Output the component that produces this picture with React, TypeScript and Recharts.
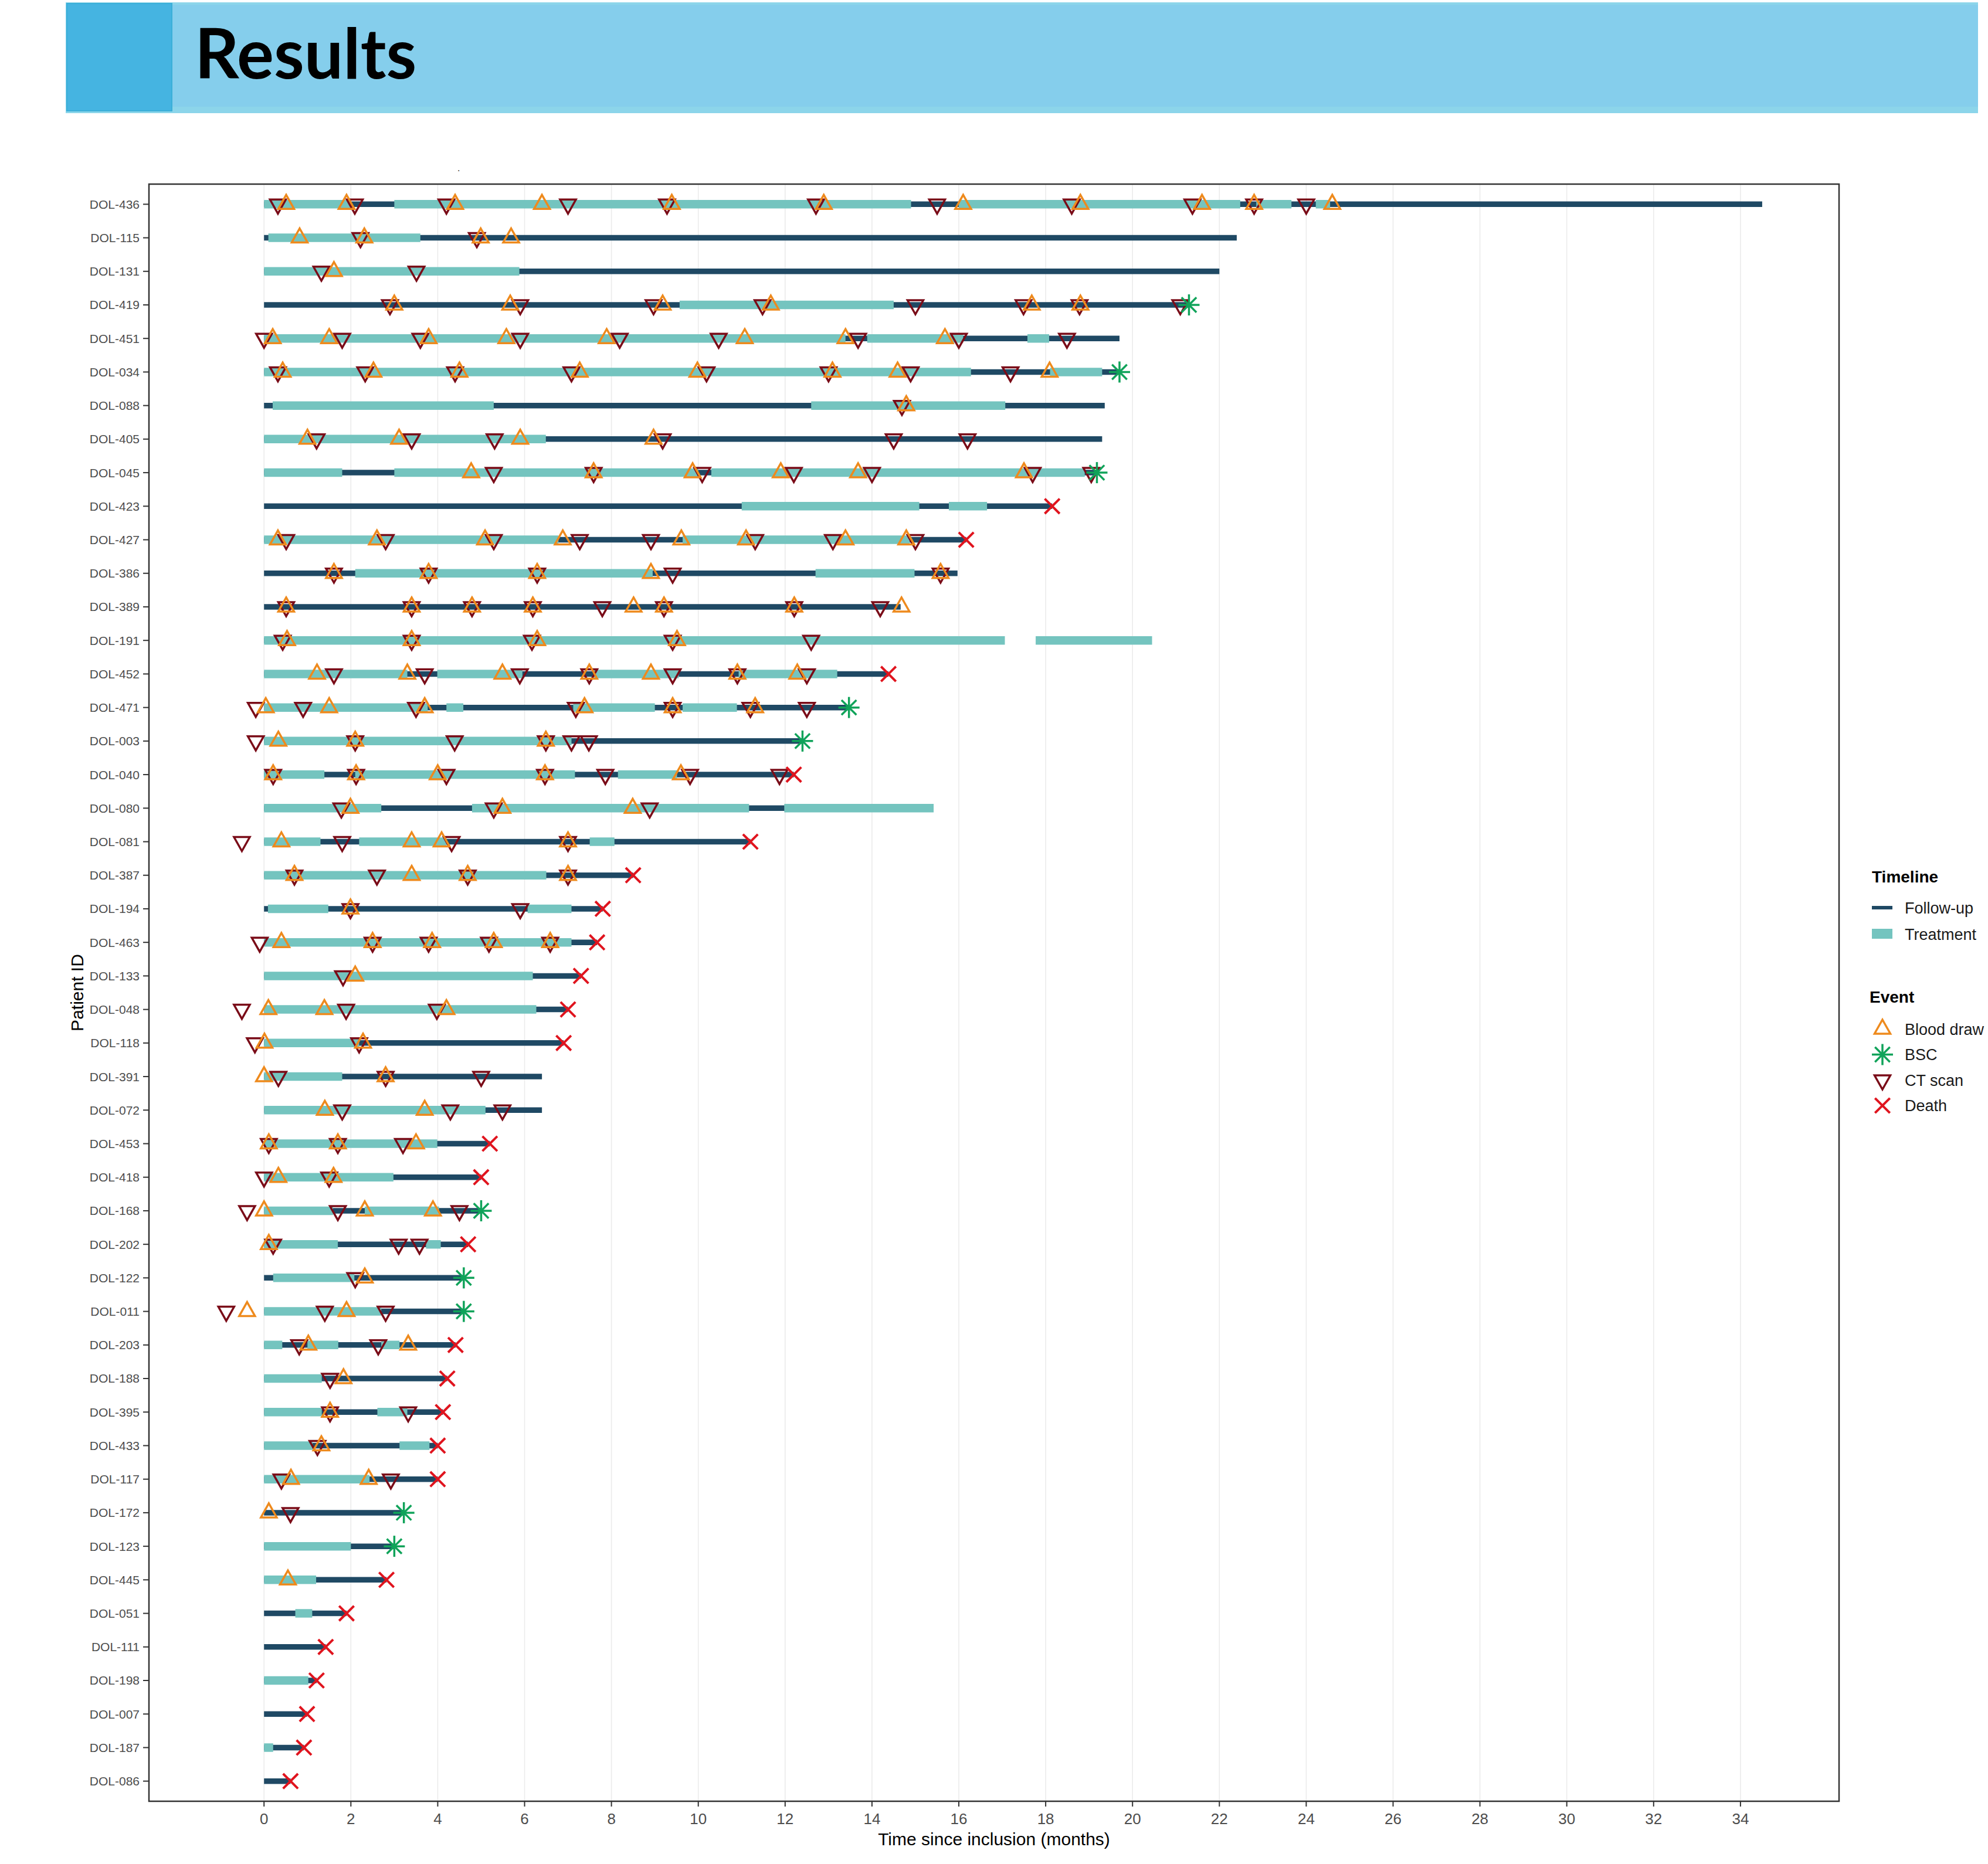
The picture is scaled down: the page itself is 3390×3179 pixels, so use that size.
import React from "react";
import {
  CartesianGrid,
  ComposedChart,
  Legend,
  Line,
  ReferenceArea,
  Scatter,
  XAxis,
  YAxis,
} from "recharts";

// ---- data (months since inclusion) ----
const patients = [
  "DOL-436", "DOL-115", "DOL-131", "DOL-419", "DOL-451", "DOL-034", "DOL-088", "DOL-405",
  "DOL-045", "DOL-423", "DOL-427", "DOL-386", "DOL-389", "DOL-191", "DOL-452", "DOL-471",
  "DOL-003", "DOL-040", "DOL-080", "DOL-081", "DOL-387", "DOL-194", "DOL-463", "DOL-133",
  "DOL-048", "DOL-118", "DOL-391", "DOL-072", "DOL-453", "DOL-418", "DOL-168", "DOL-202",
  "DOL-122", "DOL-011", "DOL-203", "DOL-188", "DOL-395", "DOL-433", "DOL-117", "DOL-172",
  "DOL-123", "DOL-445", "DOL-051", "DOL-111", "DOL-198", "DOL-007", "DOL-187", "DOL-086",
];

const followUpEnd = [
  34.5, 22.4, 22.0, 21.3, 19.7, 19.7, 19.36, 19.3, 19.18, 18.15, 16.17, 15.97, 14.66, 17.0,
  14.38, 13.47, 12.4, 12.2, 15.0, 11.2, 8.5, 7.8, 7.67, 7.3, 7.0, 6.9, 6.4, 6.4, 5.2, 5.0, 5.0,
  4.7, 4.6, 4.6, 4.41, 4.22, 4.12, 4.0, 4.0, 3.22, 3.0, 2.82, 1.9, 1.42, 1.21, 0.99, 0.92, 0.61,
];

const treatment: number[][][] = [
  [[0, 2.0], [3.0, 14.9], [16.0, 22.48], [22.85, 23.66], [24.22, 24.55]],
  [[0.1, 3.6]],
  [[0, 5.88]],
  [[9.57, 14.5]],
  [[0, 13.39], [13.89, 16.1], [17.58, 18.08]],
  [[0, 16.28], [18.1, 19.3]],
  [[0.2, 5.29], [12.6, 17.07]],
  [[0, 6.49]],
  [[0, 1.8], [3.0, 10.0], [10.3, 18.9]],
  [[11.0, 15.09], [15.77, 16.65]],
  [[0, 6.78], [9.64, 14.87]],
  [[2.1, 8.95], [12.7, 14.98]],
  [],
  [[0, 17.06], [17.77, 20.45]],
  [[0, 3.3], [3.99, 5.95], [7.6, 9.55], [10.93, 13.2]],
  [[0, 3.77], [4.2, 4.59], [7.12, 9.0], [9.64, 10.89]],
  [[0, 7.08]],
  [[0, 1.39], [2.1, 7.16], [8.15, 9.51]],
  [[0, 2.7], [4.79, 11.17], [11.98, 15.42]],
  [[0, 1.3], [2.19, 4.2], [7.5, 8.07]],
  [[0, 6.5]],
  [[0.09, 1.48], [6.07, 7.08]],
  [[0, 7.08]],
  [[0, 6.19]],
  [[0, 6.27]],
  [[0, 2.19]],
  [[0, 1.8]],
  [[0, 5.1]],
  [[0, 3.99]],
  [[0, 2.98]],
  [[0, 1.59], [2.32, 4.03]],
  [[0, 1.7], [3.73, 4.07]],
  [[0.21, 2.08]],
  [[0, 2.7]],
  [[0, 0.42], [1.0, 1.71], [2.7, 3.12]],
  [[0, 1.33]],
  [[0, 1.33], [2.61, 3.3]],
  [[0, 1.12], [3.12, 3.81]],
  [[0, 2.43]],
  [],
  [[0, 2.0]],
  [[0, 1.2]],
  [[0.72, 1.11]],
  [],
  [[0, 1.02]],
  [],
  [[0, 0.21]],
  [],
];

const bloodDraw: number[][] = [
  [0.51, 1.9, 4.4, 6.4, 9.39, 12.89, 16.1, 18.8, 21.6, 22.8, 24.6],
  [0.82, 2.31, 4.99, 5.69],
  [1.61],
  [3.0, 5.67, 9.18, 11.67, 17.68, 18.8],
  [0.2, 1.5, 3.79, 5.58, 7.89, 11.07, 13.39, 15.68],
  [0.43, 2.52, 4.5, 7.27, 9.98, 13.09, 14.59, 18.09],
  [14.79],
  [1.0, 3.11, 5.9, 8.97],
  [4.77, 7.59, 9.87, 11.9, 13.68, 17.5],
  [],
  [0.32, 2.6, 5.09, 6.88, 9.61, 11.1, 13.39, 14.79],
  [1.61, 3.79, 6.29, 8.91, 15.58],
  [0.51, 3.4, 4.79, 6.19, 8.51, 9.21, 12.21, 14.68],
  [0.53, 3.4, 6.29, 9.51],
  [1.22, 3.3, 5.49, 7.49, 8.91, 10.9, 12.28],
  [0.04, 1.5, 3.7, 7.38, 9.41, 11.31],
  [0.33, 2.1, 6.49],
  [0.21, 2.12, 4.0, 6.47, 9.6],
  [1.99, 5.49, 8.49],
  [0.4, 3.4, 4.09, 7.0],
  [0.7, 3.4, 4.69, 7.0],
  [1.99],
  [0.4, 2.5, 3.87, 5.29, 6.59],
  [2.1],
  [0.1, 1.39, 4.2],
  [0.01, 2.28],
  [0.0, 2.8],
  [1.4, 3.7],
  [0.11, 1.7, 3.5],
  [0.33, 1.6],
  [0.0, 2.32, 3.89],
  [0.11],
  [2.32],
  [-0.39, 1.9],
  [1.02, 3.32],
  [1.83],
  [1.52],
  [1.32],
  [0.62, 2.41],
  [0.11],
  [], [0.55], [], [], [], [], [], [],
];

const ctScan: number[][] = [
  [0.32, 2.09, 4.2, 7.0, 9.28, 12.71, 15.5, 18.6, 21.38, 22.8, 24.0],
  [2.22, 4.9],
  [1.32, 3.51],
  [2.9, 5.9, 8.97, 11.48, 15.0, 17.49, 18.78, 21.1],
  [0.0, 1.8, 3.6, 5.9, 8.19, 10.47, 13.68, 16.0, 18.49],
  [0.32, 2.33, 4.4, 7.08, 10.19, 13.0, 14.89, 17.19],
  [14.69],
  [1.21, 3.4, 5.31, 9.18, 14.5, 16.2],
  [5.29, 7.59, 10.09, 12.2, 14.0, 17.7, 19.05],
  [],
  [0.51, 2.8, 5.29, 7.27, 8.91, 11.31, 13.1, 15.0],
  [1.61, 3.79, 6.29, 9.41, 15.58],
  [0.51, 3.4, 4.79, 6.19, 7.79, 9.21, 12.21, 14.19],
  [0.43, 3.4, 6.17, 9.41, 12.6],
  [1.61, 3.7, 5.89, 7.49, 9.41, 10.9, 12.5],
  [-0.19, 0.9, 3.5, 7.18, 9.41, 11.2, 12.5],
  [-0.19, 2.1, 4.39, 6.49, 7.08, 7.48],
  [0.21, 2.12, 4.2, 6.47, 7.86, 9.81, 11.87],
  [1.78, 5.29, 8.88],
  [-0.51, 1.8, 4.32, 7.0],
  [0.7, 2.6, 4.69, 7.0],
  [1.99, 5.9],
  [-0.1, 2.5, 3.79, 5.18, 6.59],
  [1.82],
  [-0.51, 1.89, 3.98],
  [-0.21, 2.19],
  [0.33, 2.8, 5.0],
  [1.8, 4.29, 5.49],
  [0.11, 1.7, 3.2],
  [0.0, 1.5],
  [-0.39, 1.7, 4.5],
  [0.21, 3.1, 3.58],
  [2.1],
  [-0.87, 1.4, 2.8],
  [0.81, 2.63],
  [1.52],
  [1.52, 3.32],
  [1.23],
  [0.4, 2.92],
  [0.61],
  [], [], [], [], [], [], [], [],
];

const bsc: (number | null)[] = [
  null, null, null, 21.3, null, 19.7, null, null, 19.18, null, null, null, null, null, null, 13.47,
  12.4, null, null, null, null, null, null, null, null, null, null, null, null, null, 5.0, null,
  4.6, 4.6, null, null, null, null, null, 3.22, 3.0, null, null, null, null, null, null, null,
];

const death: (number | null)[] = [
  null, null, null, null, null, null, null, null, null, 18.15, 16.17, null, null, null, 14.38, null,
  null, 12.2, null, 11.2, 8.5, 7.8, 7.67, 7.3, 7.0, 6.9, null, null, 5.2, 5.0, null, 4.7,
  null, null, 4.41, 4.22, 4.12, 4.0, 4.0, null, null, 2.82, 1.9, 1.42, 1.21, 0.99, 0.92, 0.61,
];

const xTicks = [0, 2, 4, 6, 8, 10, 12, 14, 16, 18, 20, 22, 24, 26, 28, 30, 32, 34];
const timelineLabels = ["Follow-up", "Treatment"];
const eventLabels = ["Blood draw", "BSC", "CT scan", "Death"];

// ---- styling ----
const FOLLOW_COLOR = "#1F4964";
const TREAT_COLOR = "#74C4BF";
const BLOOD_COLOR = "#EE8A1D";
const CT_COLOR = "#7A0C18";
const BSC_COLOR = "#10A35A";
const DEATH_COLOR = "#E0141E";
const FONT = "'Liberation Sans', Arial, sans-serif";

const W = 3390;
const H = 3179;
const X_DOMAIN: [number, number] = [-2.65, 36.27];
const Y_DOMAIN: [number, number] = [-0.6, patients.length - 0.4];

const rowIdx = patients.map((_, i) => i);

const followData = patients.flatMap((_, i) => [
  { x: 0, y: i },
  { x: followUpEnd[i], y: i },
  { x: followUpEnd[i], y: null },
]);
const treatmentData = treatment.flatMap((segs, i) =>
  segs.flatMap(([s, e]) => [
    { x: s, y: i },
    { x: e, y: i },
    { x: e, y: null },
  ])
);
const listPoints = (lists: number[][]) => lists.flatMap((l, i) => l.map((x) => ({ x, y: i })));
const singlePoints = (vals: (number | null)[]) =>
  vals.flatMap((x, i) => (x == null ? [] : [{ x, y: i }]));

function TriUp(cx: number, cy: number) {
  return (
    <path
      d={`M${cx},${cy - 16} L${cx + 13.5},${cy + 8} L${cx - 13.5},${cy + 8} Z`}
      fill="none"
      stroke={BLOOD_COLOR}
      strokeWidth={3.5}
    />
  );
}
function TriDown(cx: number, cy: number) {
  return (
    <path
      d={`M${cx},${cy + 16} L${cx + 13.5},${cy - 8} L${cx - 13.5},${cy - 8} Z`}
      fill="none"
      stroke={CT_COLOR}
      strokeWidth={3.5}
    />
  );
}
function Asterisk(cx: number, cy: number) {
  const r = 18;
  const d = r / Math.SQRT2;
  return (
    <g stroke={BSC_COLOR} strokeWidth={3.5}>
      <line x1={cx - r} y1={cy} x2={cx + r} y2={cy} />
      <line x1={cx} y1={cy - r} x2={cx} y2={cy + r} />
      <line x1={cx - d} y1={cy - d} x2={cx + d} y2={cy + d} />
      <line x1={cx - d} y1={cy + d} x2={cx + d} y2={cy - d} />
    </g>
  );
}
function Cross(cx: number, cy: number) {
  const d = 12.7;
  return (
    <g stroke={DEATH_COLOR} strokeWidth={4}>
      <line x1={cx - d} y1={cy - d} x2={cx + d} y2={cy + d} />
      <line x1={cx - d} y1={cy + d} x2={cx + d} y2={cy - d} />
    </g>
  );
}

function LegendBox() {
  const markers = [TriUp, Asterisk, TriDown, Cross];
  const textProps = { fontSize: 27, fill: "#1a1a1a", fontFamily: FONT };
  return (
    <svg width={210} height={440} style={{ display: "block", overflow: "visible" }}>
      <text x={12} y={35} fontSize={28} fontWeight={700} fill="#000" fontFamily={FONT}>
        Timeline
      </text>
      <rect x={12} y={75} width={35} height={6} fill={FOLLOW_COLOR} />
      <rect x={12} y={114} width={35} height={17} fill={TREAT_COLOR} />
      {timelineLabels.map((label, i) => (
        <text key={label} x={68} y={88 + i * 45} {...textProps}>
          {label}
        </text>
      ))}
      <text x={8} y={240} fontSize={28} fontWeight={700} fill="#000" fontFamily={FONT}>
        Event
      </text>
      {eventLabels.map((label, i) => {
        const cy = 285 + i * 43.5;
        return (
          <g key={label}>
            {markers[i](30, cy)}
            <text x={68} y={cy + 9.6} {...textProps}>
              {label}
            </text>
          </g>
        );
      })}
    </svg>
  );
}

function Header() {
  return (
    <svg width={W} height={200} style={{ position: "absolute", left: 0, top: 0 }}>
      <rect x={112} y={4} width={3261} height={189} fill="#8CD5EA" />
      <rect x={112} y={8} width={3261} height={174} fill="#85CEEC" />
      <rect x={114} y={6} width={179} height={183} fill="#45B4E1" stroke="#3AAFD8" strokeWidth={2} />
      <text x={332} y={134} fontSize={118} fontWeight={700} fill="#000" fontFamily="Lato, 'Open Sans', sans-serif">
        Results
      </text>
    </svg>
  );
}

export default function App() {
  return (
    <div
      style={{
        position: "absolute",
        left: 0,
        top: 0,
        width: W,
        height: H,
        background: "#fff",
        overflow: "hidden",
        fontFamily: FONT,
      }}
    >
      <ComposedChart width={W} height={H} margin={{ top: 314, right: 254, bottom: 37, left: 104 }}>
        <CartesianGrid horizontal={false} stroke="#EBEBEB" strokeWidth={1.6} />
        <XAxis
          type="number"
          dataKey="x"
          domain={X_DOMAIN}
          allowDataOverflow
          ticks={xTicks}
          interval={0}
          height={70}
          tick={{ fill: "#4D4D4D", fontSize: 26, fontFamily: FONT }}
          tickSize={9}
          tickMargin={12}
          tickLine={{ stroke: "#333", strokeWidth: 2 }}
          axisLine={false}
          label={{
            value: "Time since inclusion (months)",
            position: "insideBottom",
            offset: -5,
            style: { fontSize: 30, fill: "#000", fontFamily: FONT },
          }}
        />
        <YAxis
          type="number"
          dataKey="y"
          domain={Y_DOMAIN}
          allowDataOverflow
          reversed
          ticks={rowIdx}
          interval={0}
          width={150}
          tickFormatter={(v: number) => patients[v] ?? ""}
          tick={{ fill: "#4D4D4D", fontSize: 21, fontFamily: FONT }}
          tickSize={10}
          tickMargin={6}
          tickLine={{ stroke: "#333", strokeWidth: 2 }}
          axisLine={false}
          label={{
            value: "Patient ID",
            angle: -90,
            position: "insideLeft",
            offset: 27,
            style: { fontSize: 30, fill: "#000", fontFamily: FONT, textAnchor: "middle" },
          }}
        />
        <Line
          data={followData}
          dataKey="y"
          stroke={FOLLOW_COLOR}
          strokeWidth={9.5}
          dot={false}
          activeDot={false}
          connectNulls={false}
          isAnimationActive={false}
          legendType="none"
        />
        <Line
          data={treatmentData}
          dataKey="y"
          stroke={TREAT_COLOR}
          strokeWidth={14.5}
          dot={false}
          activeDot={false}
          connectNulls={false}
          isAnimationActive={false}
          legendType="none"
        />
        <Scatter
          name="CT scan"
          data={listPoints(ctScan)}
          isAnimationActive={false}
          shape={(p: any) => TriDown(p.cx, p.cy)}
        />
        <Scatter
          name="Blood draw"
          data={listPoints(bloodDraw)}
          isAnimationActive={false}
          shape={(p: any) => TriUp(p.cx, p.cy)}
        />
        <Scatter
          name="BSC"
          data={singlePoints(bsc)}
          isAnimationActive={false}
          shape={(p: any) => Asterisk(p.cx, p.cy)}
        />
        <Scatter
          name="Death"
          data={singlePoints(death)}
          isAnimationActive={false}
          shape={(p: any) => Cross(p.cx, p.cy)}
        />
        <ReferenceArea
          x1={X_DOMAIN[0]}
          x2={X_DOMAIN[1]}
          y1={Y_DOMAIN[0]}
          y2={Y_DOMAIN[1]}
          fill="none"
          stroke="#333"
          strokeWidth={2.5}
          ifOverflow="visible"
        />
        <Legend
          layout="horizontal"
          align="center"
          verticalAlign="middle"
          wrapperStyle={{ left: 3180, top: 1470, width: 210, height: 440 }}
          content={() => <LegendBox />}
        />
      </ComposedChart>
      <Header />
      <div style={{ position: "absolute", left: 780, top: 278, fontSize: 16, color: "#333" }}>.</div>
    </div>
  );
}
